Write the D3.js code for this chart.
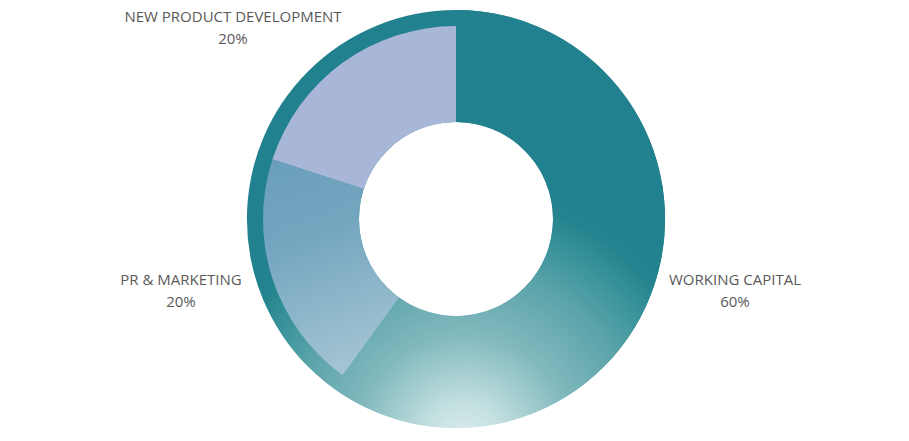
<!DOCTYPE html>
<html>
<head>
<meta charset="utf-8">
<script src="https://cdn.jsdelivr.net/npm/d3@7"></script>
<style>
    html, body { margin: 0; padding: 0; background: #fff; }
    svg { display: block; }
    .label { font-family: "Open Sans", sans-serif; font-size: 15px; fill: #595959; }
</style>
</head>
<body>
<div id="chart"></div>
<script>
// Данные
const categories = ['WORKING CAPITAL', 'PR & MARKETING', 'NEW PRODUCT DEVELOPMENT'];
const values = [60, 20, 20];
const percentLabels = ['60%', '20%', '20%'];

const width = 909;
const height = 441;
const cx = 456;
const cy = 219;
const outerRadius = 209;
const innerRadius = 97;
const smallOuterRadius = 193;

// позиции подписей (смещения от центра)
const labelOffsets = [[279, 66], [-275, 66], [-223, -197]];

const svg = d3.select('#chart').append('svg')
    .attr('width', width)
    .attr('height', height);

const defs = svg.append('defs');

// Радиальный градиент для основного кольца (координаты относительно центра)
const teal = defs.append('radialGradient')
    .attr('id', 'tealGrad')
    .attr('gradientUnits', 'userSpaceOnUse')
    .attr('cx', 8).attr('cy', 224)
    .attr('r', 275);
[
    [0, '#dcedee'],
    [0.15, '#c2dfe0'],
    [0.4, '#80b8bd'],
    [0.62, '#5da5ab'],
    [0.78, '#3a939b'],
    [0.9, '#23838e'],
    [1, '#22818e']
].forEach(([o, c]) => teal.append('stop').attr('offset', o).attr('stop-color', c));

// Линейный градиент для PR & MARKETING
const pr = defs.append('linearGradient')
    .attr('id', 'prGrad')
    .attr('gradientUnits', 'userSpaceOnUse')
    .attr('x1', -170).attr('y1', -60)
    .attr('x2', -90).attr('y2', 160);
[
    [0, '#6a9fbb'],
    [0.35, '#75a6c0'],
    [1, '#a9c8d5']
].forEach(([o, c]) => pr.append('stop').attr('offset', o).attr('stop-color', c));

const fills = ['url(#tealGrad)', 'url(#prGrad)', '#a8b6d7'];

const g = svg.append('g')
    .attr('transform', `translate(${cx},${cy})`);

const pie = d3.pie().sort(null).value(d => d);
const arcs = pie(values);

// фоновое кольцо
g.append('path')
    .attr('d', d3.arc().innerRadius(innerRadius).outerRadius(outerRadius)({ startAngle: 0, endAngle: 2 * Math.PI }))
    .attr('fill', 'url(#tealGrad)');

// Сектора
g.selectAll('path.slice')
    .data(arcs)
    .join('path')
    .attr('class', 'slice')
    .attr('d', (a, i) => d3.arc()
        .innerRadius(innerRadius)
        .outerRadius(i === 0 ? outerRadius : smallOuterRadius)(a))
    .attr('fill', (a, i) => fills[i]);

// Подписи
arcs.forEach((a, i) => {
    const [dx, dy] = labelOffsets[i];
    const t = g.append('text')
        .attr('class', 'label')
        .attr('text-anchor', 'middle')
        .attr('x', dx)
        .attr('y', dy);
    t.append('tspan').attr('x', dx).attr('dy', 0).text(categories[i]);
    t.append('tspan').attr('x', dx).attr('dy', 22).text(percentLabels[i]);
});
</script>
</body>
</html>
